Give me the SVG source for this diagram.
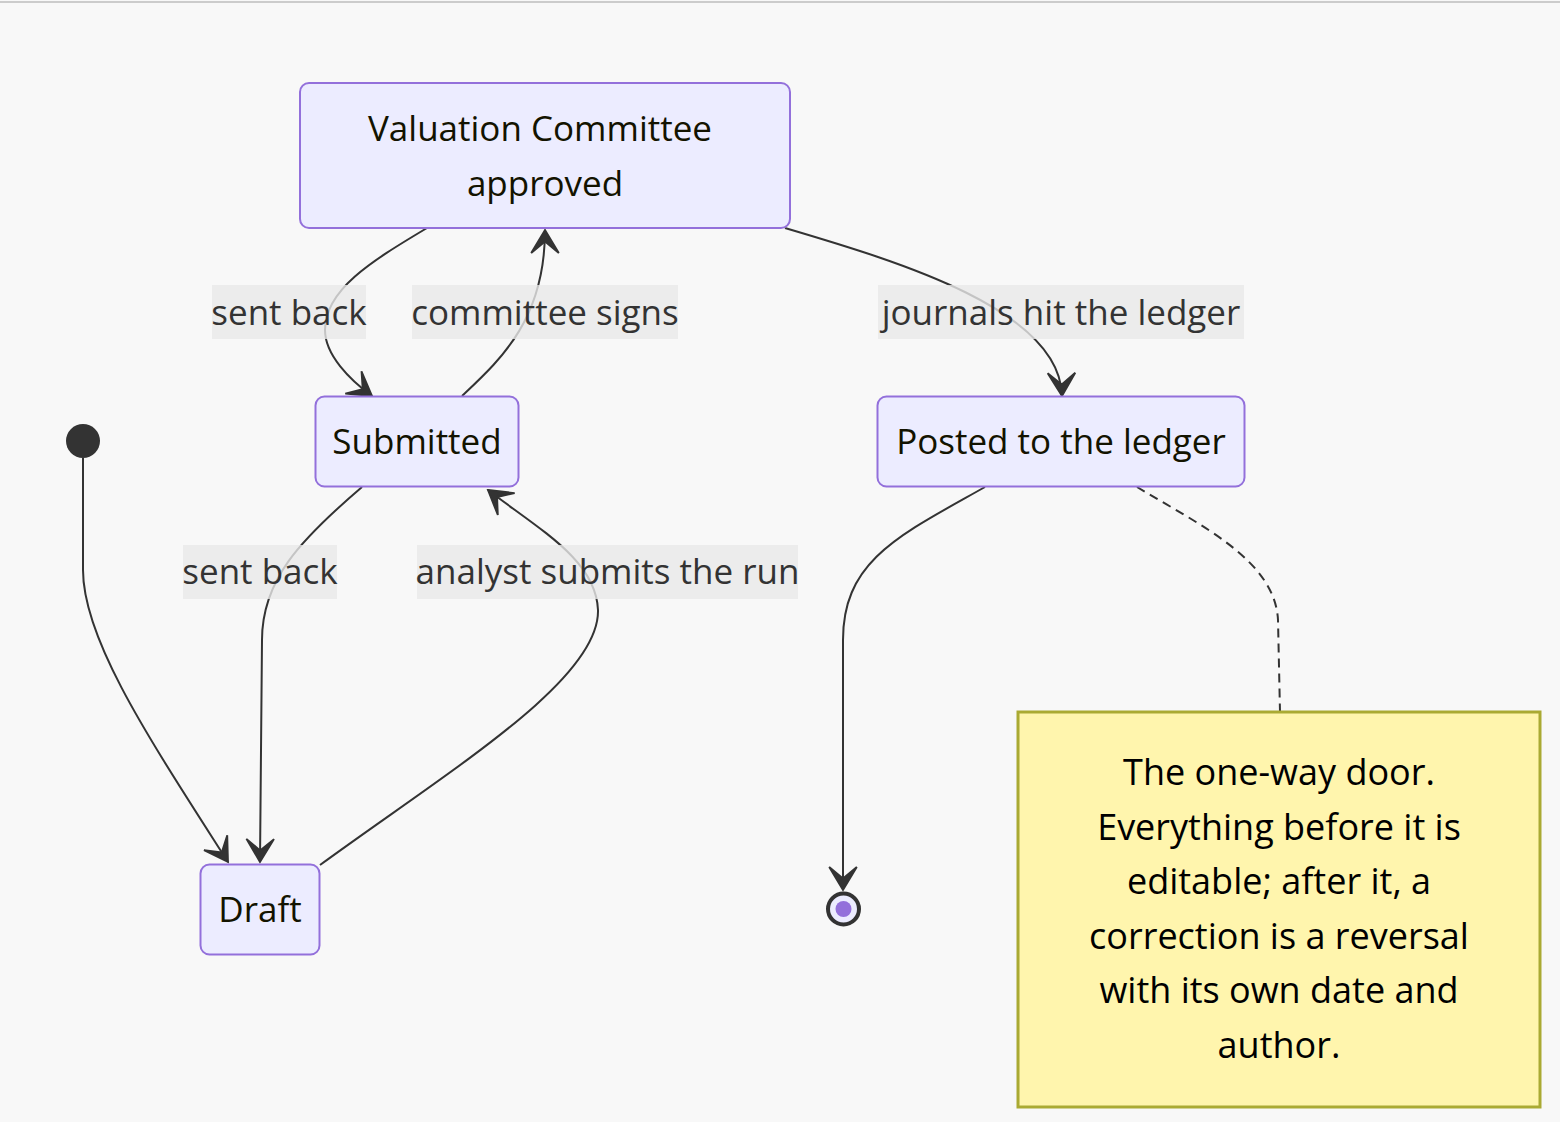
<svg xmlns="http://www.w3.org/2000/svg" width="1560" height="1122" viewBox="0 0 1560 1122">
<defs>
<style>
.state rect{fill:#ECECFF;stroke:#9370DB;stroke-width:2}
.t{font-family:"Open Sans","DejaVu Sans",sans-serif;font-size:35px;fill:#131300;text-anchor:middle}
.lbl rect{fill:#e8e8e8;fill-opacity:0.8}
.lbl text{font-family:"Open Sans","DejaVu Sans",sans-serif;font-size:35px;fill:#333;text-anchor:middle}
.edge{fill:none;stroke:#333;stroke-width:2}
.note rect{fill:#FFF5AD;stroke:#AAAA33;stroke-width:3}
.nt{font-family:"Open Sans","DejaVu Sans",sans-serif;font-size:36px;fill:#000;text-anchor:middle}
</style>
<marker id="barb" viewBox="0 0 20 14" markerUnits="userSpaceOnUse" markerWidth="46" markerHeight="32.2" refX="19" refY="7" orient="auto">
<path d="M19,7 L9,13 L14,7 L9,1 Z" fill="#333" stroke="#333" stroke-width="0.8" stroke-linejoin="miter"/>
</marker>
</defs>
<rect x="0" y="0" width="1560" height="1122" fill="#f8f8f8"/>
<line x1="0" y1="2" x2="1560" y2="2" stroke="#cccccc" stroke-width="2"/>

<g id="connectors">
<path class="edge" d="M83,458 L83,570 C83,640 150,740 228,862" marker-end="url(#barb)"/>
<path class="edge" d="M362,487 C300,540 262,580 262,640 L260,862" marker-end="url(#barb)"/>
<path class="edge" d="M320,865 C450,770 600,680 598,610 C596,560 540,530 488,490" marker-end="url(#barb)"/>
<path class="edge" d="M462,396 C500,360 545,320 545,230" marker-end="url(#barb)"/>
<path class="edge" d="M427,228 C370,262 325,290 325,330 C325,355 350,380 372,396" marker-end="url(#barb)"/>
<path class="edge" d="M785,228 C900,262 1060,310 1062,396" marker-end="url(#barb)"/>
<path class="edge" d="M985,487 C900,535 843,560 843,640 L843,890" marker-end="url(#barb)"/>
<path class="edge" d="M1137,487 C1200,525 1275,560 1278,620 L1280,712" stroke-dasharray="9 6"/>
<g class="lbl"><rect x="212" y="285" width="154" height="54"/><text x="289" y="325">sent back</text></g>
<g class="lbl"><rect x="412" y="285" width="266" height="54"/><text x="545" y="325">committee signs</text></g>
<g class="lbl"><rect x="878" y="285" width="366" height="54"/><text x="1061" y="325">journals hit the ledger</text></g>
<g class="lbl"><rect x="183" y="545" width="154" height="54"/><text x="260" y="584">sent back</text></g>
<g class="lbl"><rect x="417" y="545" width="381" height="54"/><text x="607.5" y="584">analyst submits the run</text></g>
</g>

<g id="start"><circle cx="83" cy="441" r="17" fill="#333"/></g>
<g id="end"><circle cx="843.5" cy="909" r="15.5" fill="#ECECFF" stroke="#333" stroke-width="4"/><circle cx="843.5" cy="909" r="8" fill="#9370DB"/></g>

<g id="valuation" class="state"><rect x="300" y="83" width="490" height="145" rx="9"/><text class="t" x="540" y="141">Valuation Committee</text><text class="t" x="545" y="196">approved</text></g>
<g id="submitted" class="state"><rect x="315.5" y="396.5" width="203" height="90" rx="9"/><text class="t" x="417" y="454">Submitted</text></g>
<g id="posted" class="state"><rect x="877.5" y="396.5" width="367" height="90" rx="9"/><text class="t" x="1061" y="454">Posted to the ledger</text></g>
<g id="draft" class="state"><rect x="200.5" y="864.5" width="119" height="90" rx="9"/><text class="t" x="260" y="922">Draft</text></g>

<g id="note" class="note"><rect x="1018" y="712" width="522" height="395"/>
<text class="nt" x="1279" y="785">The one-way door.</text>
<text class="nt" x="1279" y="840">Everything before it is</text>
<text class="nt" x="1279" y="894">editable; after it, a</text>
<text class="nt" x="1279" y="949">correction is a reversal</text>
<text class="nt" x="1279" y="1003">with its own date and</text>
<text class="nt" x="1279" y="1058">author.</text>
</g>
</svg>
